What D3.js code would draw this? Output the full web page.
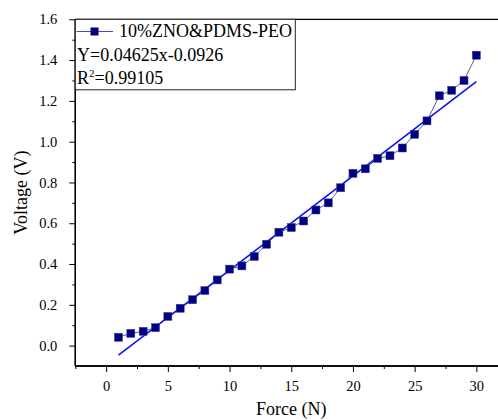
<!DOCTYPE html>
<html>
<head>
<meta charset="utf-8">
<script src="https://cdn.jsdelivr.net/npm/d3@7"></script>
<style>
  html, body { margin: 0; padding: 0; background: #fff; overflow: hidden; }
  svg { display: block; font-family: "Liberation Serif", "Times New Roman", serif; }
</style>
</head>
<body>
<svg id="chart" width="498" height="420"></svg>
<script>
// ---- data ----
const force = [1,2,3,4,5,6,7,8,9,10,11,12,13,14,15,16,17,18,19,20,21,22,23,24,25,26,27,28,29,30];
const voltage = [0.041,0.060,0.070,0.088,0.143,0.183,0.225,0.270,0.322,0.375,0.391,0.437,0.497,0.556,0.579,0.611,0.665,0.700,0.774,0.845,0.867,0.918,0.931,0.969,1.036,1.102,1.225,1.252,1.300,1.424];
const fitSlope = 0.04625;
const fitIntercept = -0.0926;
const fitRange = [1, 30];
const xMajorTicks = [0,5,10,15,20,25,30];
const xMinorTicks = [-2.5,2.5,7.5,12.5,17.5,22.5,27.5,32.5];
const yMajorTicks = [0.0,0.2,0.4,0.6,0.8,1.0,1.2,1.4,1.6];
const yMinorTicks = [0.1,0.3,0.5,0.7,0.9,1.1,1.3,1.5];
const seriesName = "10%ZNO&PDMS-PEO";
const equationText = "Y=0.04625x-0.0926";
const r2Value = "=0.99105";
const xTitle = "Force (N)";
const yTitle = "Voltage (V)";

// ---- layout ----
const svg = d3.select("#chart");
const pLeft = 75.3, pTop = 19.3, pBottom = 366;
const x = d3.scaleLinear().domain([-2.5, 33]).range([pLeft, pLeft + 35.5 * 12.34]);
const y = d3.scaleLinear().domain([-0.1, 1.6]).range([pBottom, pTop]);
const pRight = x(33);

// frame (top border)
svg.append("line").attr("x1", pLeft).attr("x2", pRight).attr("y1", pTop).attr("y2", pTop)
  .attr("stroke", "#000").attr("stroke-width", 1.3);

// x axis
const xAxis = svg.append("g").attr("transform", `translate(0,${pBottom})`);
xAxis.call(d3.axisBottom(x).tickValues(xMajorTicks).tickSize(6).tickPadding(9).tickFormat(d3.format("d")));
xAxis.append("g").call(d3.axisBottom(x).tickValues(xMinorTicks).tickSize(3).tickFormat(""));
xAxis.selectAll(".domain").attr("stroke-width", 1.3).attr("d", `M${pLeft},0H${pRight}`);
xAxis.selectAll("text").attr("font-family", "Liberation Serif").attr("font-size", 14.5).attr("fill", "#000");

// y axis
const yAxis = svg.append("g").attr("transform", `translate(${pLeft},0)`);
yAxis.call(d3.axisLeft(y).tickValues(yMajorTicks).tickSize(6).tickPadding(12).tickFormat(d3.format(".1f")));
yAxis.append("g").call(d3.axisLeft(y).tickValues(yMinorTicks).tickSize(3).tickFormat(""));
yAxis.selectAll(".domain").attr("stroke-width", 1.3).attr("d", `M0,${pBottom}V${pTop}`);
yAxis.selectAll("text").attr("font-family", "Liberation Serif").attr("font-size", 14.5).attr("fill", "#000");

// titles
svg.append("text").attr("x", x(15)).attr("y", 415).attr("text-anchor", "middle")
  .attr("font-size", 18).text(xTitle);
svg.append("text").attr("transform", `translate(27,${(pTop + pBottom) / 2}) rotate(-90)`)
  .attr("text-anchor", "middle").attr("font-size", 18).text(yTitle);

// connecting line
const line = d3.line().x((d, i) => x(force[i])).y(d => y(d));
svg.append("path").datum(voltage).attr("d", line).attr("fill", "none")
  .attr("stroke", "#5a5aa6").attr("stroke-width", 1);

// fit line
svg.append("line")
  .attr("x1", x(fitRange[0])).attr("y1", y(fitSlope * fitRange[0] + fitIntercept))
  .attr("x2", x(fitRange[1])).attr("y2", y(fitSlope * fitRange[1] + fitIntercept))
  .attr("stroke", "#0a14f0").attr("stroke-width", 1.6);

// markers
const ms = 8;
svg.append("g").selectAll("rect").data(voltage).join("rect")
  .attr("x", (d, i) => x(force[i]) - ms / 2).attr("y", d => y(d) - ms / 2)
  .attr("width", ms).attr("height", ms).attr("fill", "#000080")
  .attr("stroke", "#3a3a9a").attr("stroke-width", 0.5);

// legend
const lg = svg.append("g");
lg.append("rect").attr("x", pLeft).attr("y", pTop).attr("width", 220).attr("height", 70.5)
  .attr("fill", "#fff").attr("stroke", "#222").attr("stroke-width", 1);
lg.append("line").attr("x1", 76.5).attr("x2", 113).attr("y1", 31.5).attr("y2", 31.5)
  .attr("stroke", "#4a4ab8").attr("stroke-width", 1);
lg.append("rect").attr("x", 94.5 - 4).attr("y", 31.5 - 4).attr("width", 8).attr("height", 8)
  .attr("fill", "#000080");
lg.append("text").attr("x", 119).attr("y", 37).attr("font-size", 18).text(seriesName);
lg.append("text").attr("x", 77).attr("y", 60.5).attr("font-size", 18).text(equationText);
const r2 = lg.append("text").attr("x", 77).attr("y", 84).attr("font-size", 18);
r2.append("tspan").text("R");
r2.append("tspan").attr("font-size", 11).attr("dy", -7).text("2");
r2.append("tspan").attr("dy", 7).text(r2Value);
</script>
</body>
</html>
